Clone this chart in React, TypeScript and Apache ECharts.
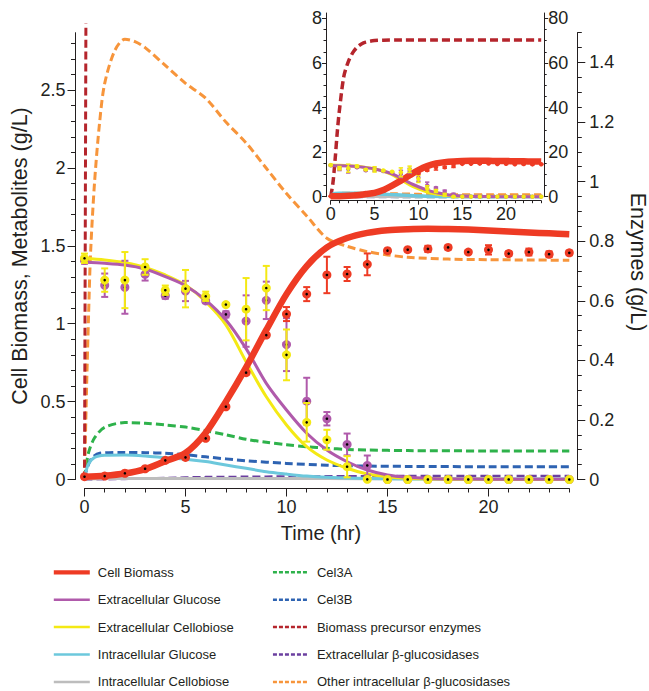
import { useEffect, useRef } from 'react';
import * as echarts from 'echarts';

const FONT = '"Liberation Sans", Arial, Helvetica, sans-serif';
const INK = '#231F20';

// ---------- tick labels ----------
const mainLeftTicks = [0, 0.5, 1, 1.5, 2, 2.5];
const mainRightTicks = [0, 0.2, 0.4, 0.6, 0.8, 1, 1.2, 1.4];
const timeTicks = [0, 5, 10, 15, 20];
const insetLeftTicks = [0, 2, 4, 6, 8];
const insetRightTicks = [0, 20, 40, 60, 80];

// ---------- model curves (time in hr, g/L) ----------
const bioT = [0, 1, 2, 3, 4, 5, 6, 7, 8, 9, 10, 11, 12, 13, 14, 15, 16, 17, 18, 19, 20, 21, 22, 23, 24];
const bioV = [0.018, 0.024, 0.038, 0.066, 0.118, 0.17, 0.3, 0.5, 0.72, 0.96, 1.19, 1.37, 1.49, 1.55, 1.583, 1.6, 1.607, 1.61, 1.608, 1.604, 1.598, 1.592, 1.586, 1.58, 1.574];

const glcT = [0, 1, 2, 3, 4, 5, 6, 7, 8, 9, 10, 11, 12, 13, 14, 15, 16, 17, 18, 20, 24];
const glcV = [1.394, 1.388, 1.377, 1.351, 1.302, 1.244, 1.152, 1.024, 0.84, 0.617, 0.446, 0.297, 0.189, 0.114, 0.061, 0.029, 0.014, 0.007, 0.004, 0.002, 0.001];

const cbT = [0, 1, 2, 3, 4, 5, 6, 7, 8, 9, 10, 11, 12, 13, 14, 15, 16, 17, 18, 20, 24];
const cbV = [1.42, 1.409, 1.392, 1.362, 1.313, 1.248, 1.141, 0.992, 0.756, 0.531, 0.35, 0.211, 0.125, 0.072, 0.035, 0.018, 0.008, 0.004, 0.002, 0.001, 0];

const icgT = [0, 0.2, 0.5, 1, 2, 3, 4, 5, 6, 7, 8, 9, 10, 11, 12, 13, 14, 16, 20, 24];
const icgV = [0.012, 0.1, 0.142, 0.155, 0.157, 0.151, 0.14, 0.13, 0.115, 0.093, 0.072, 0.05, 0.035, 0.022, 0.014, 0.01, 0.007, 0.004, 0.002, 0.001];

const iccT = [0, 1, 2, 4, 8, 12, 16, 20, 24];
const iccV = [0.004, 0.006, 0.007, 0.007, 0.007, 0.006, 0.005, 0.005, 0.005];

const c3aT = [0, 0.2, 0.5, 1, 2, 3, 4, 5, 6, 7, 8, 9, 10, 11, 12, 13, 14, 16, 20, 24];
const c3aV = [0.006, 0.09, 0.14, 0.175, 0.191, 0.189, 0.183, 0.176, 0.164, 0.15, 0.135, 0.125, 0.117, 0.11, 0.105, 0.101, 0.099, 0.097, 0.096, 0.096];

const c3bT = [0, 0.1, 0.35, 0.75, 2, 3, 4, 5, 6, 8, 10, 12, 14, 16, 20, 24];
const c3bV = [0.006, 0.032, 0.071, 0.088, 0.091, 0.09, 0.088, 0.083, 0.076, 0.063, 0.054, 0.048, 0.045, 0.044, 0.043, 0.043];

const ebgT = [0, 2, 4, 6, 8, 10, 14, 18, 24];
const ebgV = [0, 0.002, 0.005, 0.008, 0.009, 0.01, 0.011, 0.012, 0.012];

const oibT = [0, 0.1, 0.2, 0.3, 0.5, 0.75, 1, 1.5, 2, 2.5, 3, 4, 5, 6, 7, 8, 9, 10, 11, 12, 13, 14, 15, 16, 18, 20, 22, 24];
const oibV = [0, 0.3, 0.55, 0.76, 1.0, 1.2, 1.33, 1.44, 1.478, 1.47, 1.45, 1.39, 1.33, 1.28, 1.2, 1.13, 1.045, 0.96, 0.885, 0.81, 0.783, 0.765, 0.754, 0.746, 0.74, 0.738, 0.737, 0.736];

const bpeT = [0, 0.25, 0.5, 0.75, 1, 1.5, 2, 2.5, 3, 3.5, 4, 5, 6, 8, 12, 16, 20, 24];
const bpeV = [0, 6, 16.5, 29, 39, 54, 60.5, 64.5, 67, 68.5, 69.3, 70, 70.2, 70.3, 70.3, 70.3, 70.3, 70.3];

// ---------- measurements ----------
const obsT = [0, 1, 2, 3, 4, 5, 6, 7, 8, 9, 10, 11, 12, 13, 14, 15, 16, 17, 18, 19, 20, 21, 22, 23, 24];
const bioObs = [0.018, 0.022, 0.04, 0.069, 0.123, 0.142, 0.264, 0.467, 0.686, 0.927, 1.062, 1.19, 1.313, 1.319, 1.381, 1.469, 1.475, 1.48, 1.49, 1.46, 1.474, 1.45, 1.46, 1.446, 1.455];
const bioErr = [0.004, 0.004, 0.005, 0.006, 0.006, 0.008, 0.008, 0.008, 0.01, 0.01, 0.045, 0.045, 0.117, 0.045, 0.07, 0.012, 0.008, 0.02, 0.013, 0.008, 0.03, 0.015, 0.022, 0.018, 0.015];
const glcObs = [1.405, 1.247, 1.234, 1.317, 1.18, 1.21, 1.146, 1.06, 1.017, 1.15, 0.866, 0.503, 0.39, 0.225, 0.09, 0, 0, 0, 0, 0, 0, 0, 0, 0, 0];
const glcErr = [0.02, 0.075, 0.17, 0.04, 0.02, 0.065, 0.01, 0.02, 0.165, 0.12, 0.17, 0.15, 0.043, 0.07, 0.064, 0, 0, 0, 0, 0, 0, 0, 0, 0, 0];
const cbObs = [1.42, 1.28, 1.28, 1.364, 1.215, 1.225, 1.176, 1.123, 1.093, 1.229, 0.8, 0.367, 0.255, 0.082, 0.001, 0, 0, 0, 0, 0, 0, 0, 0, 0, 0];
const cbErr = [0.03, 0.075, 0.18, 0.05, 0.03, 0.12, 0.03, 0.01, 0.2, 0.142, 0.163, 0.124, 0.064, 0.068, 0.005, 0, 0, 0, 0, 0, 0, 0, 0, 0, 0];

const leftLegend = ['Cell Biomass', 'Extracellular Glucose', 'Extracellular Cellobiose', 'Intracellular Glucose', 'Intracellular Cellobiose'];
const rightLegend = ['Cel3A', 'Cel3B', 'Biomass precursor enzymes', 'Extracellular β-glucosidases', 'Other intracellular β-glucosidases'];

const COLORS: Record<string, string> = {
  'Cell Biomass': '#EE3B24',
  'Extracellular Glucose': '#B05AAB',
  'Extracellular Cellobiose': '#F4E914',
  'Intracellular Glucose': '#6CC8DC',
  'Intracellular Cellobiose': '#BDBDBD',
  'Cel3A': '#2EB24B',
  'Cel3B': '#2E63B2',
  'Biomass precursor enzymes': '#B5252C',
  'Extracellular β-glucosidases': '#6B3FA0',
  'Other intracellular β-glucosidases': '#F7953B',
};

function steps(max: number, step: number) {
  const out: number[] = [];
  for (let i = 0; i * step <= max + 1e-9; i++) out.push(+(i * step).toFixed(4));
  return out;
}

const fmt = (v: number) => String(+(+v).toFixed(3));
const TICK_FONT = 18;

function majorY(grid: number, pos: 'left' | 'right', max: number, offset: number, ticks: number[], tickLen: number, margin: number) {
  return {
    type: 'value', gridIndex: grid, position: pos, min: 0, max, offset,
    axisLine: { show: true, onZero: false, lineStyle: { color: INK, width: 1 } },
    axisTick: { show: true, customValues: ticks, length: tickLen, lineStyle: { color: INK, width: 1 } },
    axisLabel: { show: true, customValues: ticks, formatter: fmt, margin, color: INK, fontSize: TICK_FONT, fontFamily: FONT },
    splitLine: { show: false },
  };
}
function minorY(grid: number, pos: 'left' | 'right', max: number, offset: number, ticks: number[], tickLen: number) {
  return {
    type: 'value', gridIndex: grid, position: pos, min: 0, max, offset,
    axisLine: { show: false, onZero: false },
    axisTick: { show: true, customValues: ticks, length: tickLen, lineStyle: { color: INK, width: 1 } },
    axisLabel: { show: false },
    splitLine: { show: false },
  };
}
function majorX(grid: number, offset: number, ticks: number[], tickLen: number, margin: number) {
  return {
    type: 'value', gridIndex: grid, position: 'bottom', min: 0, max: 24, offset,
    axisLine: { show: true, onZero: false, lineStyle: { color: INK, width: 1 } },
    axisTick: { show: true, customValues: ticks, length: tickLen, lineStyle: { color: INK, width: 1 } },
    axisLabel: { show: true, customValues: ticks, formatter: fmt, margin, color: INK, fontSize: TICK_FONT, fontFamily: FONT },
    splitLine: { show: false },
  };
}
function minorX(grid: number, offset: number, ticks: number[], tickLen: number) {
  return {
    type: 'value', gridIndex: grid, position: 'bottom', min: 0, max: 24, offset,
    axisLine: { show: false, onZero: false },
    axisTick: { show: true, customValues: ticks, length: tickLen, lineStyle: { color: INK, width: 1 } },
    axisLabel: { show: false },
    splitLine: { show: false },
  };
}

function lineSeries(name: string, t: number[], v: number[], width: number, dashed: boolean, xi: number, yi: number, z: number) {
  const color = COLORS[name.replace('inset ', '')];
  return {
    type: 'line', name, xAxisIndex: xi, yAxisIndex: yi, z,
    data: t.map((x, i) => [x, v[i]]),
    symbol: 'none', showSymbol: false, smooth: 0.3, silent: true,
    lineStyle: { color, width, type: dashed ? [8, 4] : 'solid', cap: 'butt', join: 'round' },
    itemStyle: { color },
  };
}

function errSeries(name: string, color: string, v: number[], e: number[], xi: number, yi: number, z: number, o: { r: number; dot: boolean; cap: number; lw: number }) {
  return {
    type: 'custom', name, xAxisIndex: xi, yAxisIndex: yi, z, silent: true, clip: false,
    data: obsT.map((x, i) => [x, v[i], e[i]]),
    encode: { x: 0, y: 1 },
    renderItem: (_p: any, api: any) => {
      const x = api.value(0), y = api.value(1), err = api.value(2);
      const c = api.coord([x, y]);
      const children: any[] = [];
      if (err > 0) {
        const hi = api.coord([x, y + err]);
        const lo = api.coord([x, y - err]);
        const st = { stroke: color, lineWidth: o.lw };
        children.push({ type: 'line', shape: { x1: c[0], y1: hi[1], x2: c[0], y2: lo[1] }, style: st });
        children.push({ type: 'line', shape: { x1: c[0] - o.cap, y1: hi[1], x2: c[0] + o.cap, y2: hi[1] }, style: st });
        children.push({ type: 'line', shape: { x1: c[0] - o.cap, y1: lo[1], x2: c[0] + o.cap, y2: lo[1] }, style: st });
      }
      children.push({ type: 'circle', shape: { cx: c[0], cy: c[1], r: o.r }, style: { fill: color } });
      if (o.dot) children.push({ type: 'circle', shape: { cx: c[0], cy: c[1], r: 1.3 }, style: { fill: '#000' } });
      return { type: 'group', children };
    },
  };
}

export default function App() {
  const ref = useRef<HTMLDivElement>(null);
  useEffect(() => {
    if (!ref.current) return;
    const chart = echarts.init(ref.current, undefined, { renderer: 'svg' });

    const MAIN = { left: 84.5, top: 32.7, width: 484.8, height: 446.8 };
    const OVER = { left: 84.5, top: 25, width: 484.8, height: 454.5 };
    const INSET = { left: 330.7, top: 13, width: 210.5, height: 183.7 };
    const mainLeftMax = 2.868;
    const mainRightMax = 1.5;
    const overMax = mainRightMax * OVER.height / MAIN.height;
    const insetLeftMax = 8.238;
    const insetRightMax = 82.38;

    const mainDot = { r: 4.5, dot: true, cap: 3.5, lw: 2 };
    const insetDot = { r: 2.2, dot: false, cap: 2.2, lw: 1.5 };

    const series: any[] = [
      // main enzymes (right axis)
      lineSeries('Cel3A', c3aT, c3aV, 3, true, 0, 1, 2),
      lineSeries('Cel3B', c3bT, c3bV, 3, true, 0, 1, 2),
      lineSeries('Extracellular β-glucosidases', ebgT, ebgV, 2.5, true, 0, 1, 2),
      lineSeries('Other intracellular β-glucosidases', oibT, oibV, 3, true, 0, 1, 2),
      lineSeries('Biomass precursor enzymes', bpeT, bpeV, 3, true, 2, 4, 2),
      // main metabolites (left axis)
      lineSeries('Intracellular Cellobiose', iccT, iccV, 3, false, 0, 0, 2),
      lineSeries('Intracellular Glucose', icgT, icgV, 3, false, 0, 0, 2),
      lineSeries('Extracellular Cellobiose', cbT, cbV, 3, false, 0, 0, 2),
      lineSeries('Extracellular Glucose', glcT, glcV, 3, false, 0, 0, 2),
      lineSeries('Cell Biomass', bioT, bioV, 6.5, false, 0, 0, 3),
      errSeries('Glucose data', COLORS['Extracellular Glucose'], glcObs, glcErr, 0, 0, 4, mainDot),
      errSeries('Cellobiose data', COLORS['Extracellular Cellobiose'], cbObs, cbErr, 0, 0, 4, mainDot),
      errSeries('Biomass data', COLORS['Cell Biomass'], bioObs, bioErr, 0, 0, 4, mainDot),
      // inset
      lineSeries('inset Cel3A', c3aT, c3aV, 3.5, true, 3, 6, 2),
      lineSeries('inset Cel3B', c3bT, c3bV, 3.5, true, 3, 6, 2),
      lineSeries('inset Extracellular β-glucosidases', ebgT, ebgV, 3, true, 3, 6, 2),
      lineSeries('inset Other intracellular β-glucosidases', oibT, oibV, 3.5, true, 3, 6, 2),
      lineSeries('inset Biomass precursor enzymes', bpeT, bpeV, 3.5, true, 3, 6, 2),
      lineSeries('inset Intracellular Cellobiose', iccT, iccV, 3, false, 3, 5, 2),
      lineSeries('inset Intracellular Glucose', icgT, icgV, 3.5, false, 3, 5, 2),
      lineSeries('inset Extracellular Cellobiose', cbT, cbV, 3, false, 3, 5, 2),
      lineSeries('inset Extracellular Glucose', glcT, glcV, 3, false, 3, 5, 2),
      lineSeries('inset Cell Biomass', bioT, bioV, 6.5, false, 3, 5, 3),
      errSeries('inset Glucose data', COLORS['Extracellular Glucose'], glcObs, glcErr, 3, 5, 4, insetDot),
      errSeries('inset Cellobiose data', COLORS['Extracellular Cellobiose'], cbObs, cbErr, 3, 5, 4, insetDot),
      errSeries('inset Biomass data', COLORS['Cell Biomass'], bioObs, bioErr, 3, 5, 4, insetDot),
    ];

    const legendItem = (name: string) => ({
      name,
      lineStyle: {
        color: COLORS[name],
        width: name === 'Cell Biomass' ? 4.2 : 2.5,
        type: rightLegend.includes(name) ? [4, 2] : 'solid',
      },
    });
    const legendBase = {
      orient: 'vertical', padding: 0, itemWidth: 36, itemHeight: 14, itemGap: 13.4,
      selectedMode: false,
      itemStyle: { opacity: 0, borderWidth: 0 },
      textStyle: { color: INK, fontSize: 13, fontFamily: FONT, padding: [0, 0, 0, 3], lineHeight: 14 },
    };

    chart.setOption({
      animation: false,
      backgroundColor: '#ffffff',
      grid: [
        { ...MAIN, containLabel: false },
        { ...OVER, containLabel: false },
        { ...INSET, containLabel: false },
      ],
      xAxis: [
        majorX(0, 9, timeTicks, 8, 9),
        minorX(0, 9, steps(24, 1), 4),
        { type: 'value', gridIndex: 1, min: 0, max: 24, show: false },
        majorX(2, 4, timeTicks, 4, 4),
        minorX(2, 4, steps(24, 1), 2.5),
      ],
      yAxis: [
        majorY(0, 'left', mainLeftMax, 9, mainLeftTicks, 8, 10),
        majorY(0, 'right', mainRightMax, 8, mainRightTicks, 8, 12),
        minorY(0, 'left', mainLeftMax, 9, steps(2.8, 0.1), 4.5),
        minorY(0, 'right', mainRightMax, 8, steps(1.5, 0.05), 4.5),
        { type: 'value', gridIndex: 1, min: 0, max: overMax, show: false },
        majorY(2, 'left', insetLeftMax, 4.7, insetLeftTicks, 4, 4),
        majorY(2, 'right', insetRightMax, 3, insetRightTicks, 4, 4),
        minorY(2, 'left', insetLeftMax, 4.7, steps(8, 0.5), 2.5),
        minorY(2, 'right', insetRightMax, 3, steps(80, 5), 2.5),
      ],
      legend: [
        { ...legendBase, left: 51.7, top: 565.3, data: leftLegend.map(legendItem) },
        { ...legendBase, left: 271.7, top: 565.3, data: rightLegend.map(legendItem) },
      ],
      graphic: [
        {
          type: 'text', x: 20, y: 256, rotation: Math.PI / 2,
          style: { text: 'Cell Biomass, Metabolites (g/L)', fontSize: 21.5, fontFamily: FONT, fill: INK, align: 'center', verticalAlign: 'middle' },
        },
        {
          type: 'text', x: 638, y: 262, rotation: -Math.PI / 2,
          style: { text: 'Enzymes (g/L)', fontSize: 21.5, fontFamily: FONT, fill: INK, align: 'center', verticalAlign: 'middle' },
        },
        {
          type: 'text', x: 321, y: 533,
          style: { text: 'Time (hr)', fontSize: 20, fontFamily: FONT, fill: INK, align: 'center', verticalAlign: 'middle' },
        },
      ],
      series,
    });
    return () => chart.dispose();
  }, []);
  return <div ref={ref} style={{ position: 'fixed', left: 0, top: 0, width: 649, height: 691 }} />;
}
